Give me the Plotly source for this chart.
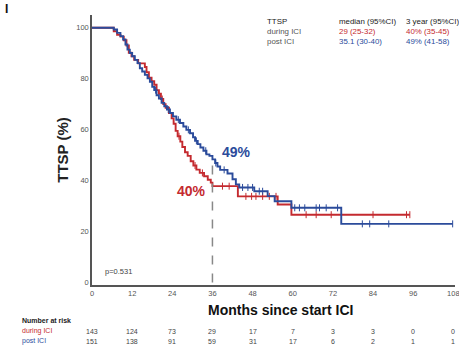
import plotly.graph_objects as go

# ---------------- data ----------------
red_t = [0, 6.5, 7.5, 8.5, 9.5, 10.3, 11.0, 11.8, 12.6, 13.8, 15.8, 16.3, 17.0, 17.8, 18.6, 19.3,
         20.0, 20.6, 21.3, 22.0, 23.0, 23.8, 24.4, 25.0, 25.6, 26.4, 27.0, 27.8, 28.6, 29.5, 30.3,
         31.2, 32.2, 33.5, 34.6, 35.5, 36.0, 43.6, 55.5, 59.6, 95.0]
red_s = [100, 98.6, 97.2, 96.5, 95.1, 93.0, 90.2, 88.8, 87.4, 86.0, 84.6, 82.5, 80.4, 79.0, 77.6, 75.5,
         74.1, 72.0, 70.0, 68.6, 66.5, 64.4, 62.3, 59.5, 57.4, 55.3, 53.2, 51.1, 49.7, 47.6, 45.9,
         44.3, 43.0, 41.7, 40.3, 39.2, 37.8, 33.8, 30.6, 26.6, 26.6]
red_cens_t = [21.0, 26.0, 30.8, 33.0, 39.0, 41.0, 46.0, 47.7, 49.0, 51.0, 53.0, 55.0, 64.0, 67.0, 71.5, 84.0, 94.0, 95.0]

blue_t = [0, 6.5, 7.5, 8.5, 9.3, 10.0, 10.6, 11.3, 12.0, 12.8, 13.6, 14.3, 15.0, 15.8, 16.6, 17.3,
          18.0, 18.6, 19.3, 20.0, 20.8, 21.6, 22.4, 23.3, 24.2, 25.2, 26.3, 27.3, 28.2, 29.3, 30.2,
          30.8, 31.6, 32.4, 33.3, 34.2, 35.1, 36.0, 36.8, 37.5, 38.3, 40.5, 42.0, 43.0, 44.0, 48.5,
          52.5, 54.6, 59.6, 74.5, 107.8]
blue_s = [100, 99.3, 98.0, 96.7, 95.4, 93.4, 91.4, 90.1, 88.8, 87.4, 86.1, 84.1, 82.8, 81.5, 80.1, 78.8,
          76.8, 75.5, 73.5, 72.2, 70.5, 69.2, 67.9, 66.5, 65.2, 63.9, 62.6, 61.2, 59.9, 58.6, 57.0,
          55.6, 54.3, 53.0, 51.7, 50.3, 49.7, 48.3, 46.9, 45.5, 44.2, 42.8, 40.5, 38.5, 37.3, 35.8,
          33.9, 31.9, 29.3, 23.0, 23.0]
blue_cens_t = [19.0, 22.8, 25.8, 28.8, 31.2, 34.0, 37.0, 39.5, 45.0, 46.6, 48.0, 50.0, 51.0,
               60.6, 62.0, 63.6, 67.0, 68.0, 70.0, 73.4, 80.8, 83.0, 88.7, 107.8]

x_ticks = [0, 12, 24, 36, 48, 60, 72, 84, 96, 108]
y_ticks = [0, 20, 40, 60, 80, 100]
risk_during = [143, 124, 73, 29, 17, 7, 3, 3, 0, 0]
risk_post = [151, 138, 91, 59, 31, 17, 6, 2, 1, 1]
landmark = 36

RED = "#c42a2f"
BLUE = "#2b4b9b"
FONT = "Arial, Liberation Sans, sans-serif"

# plot-area geometry in pixels (for placing annotations)
L, R, T, B = 92, 4, 15, 60.5
PW = 459 - L - R
PH = 346 - T - B


def surv_at(ts, ss, t):
    v = ss[0]
    for ti, si in zip(ts, ss):
        if ti <= t:
            v = si
    return v


def px(pix):
    return (pix - L) / PW


def py(pix):
    return (346 - B - pix) / PH


fig = go.Figure()
for ts, ss, cens, col in [(red_t, red_s, red_cens_t, RED), (blue_t, blue_s, blue_cens_t, BLUE)]:
    fig.add_trace(go.Scatter(x=ts, y=ss, mode="lines", line=dict(color=col, width=1.9, shape="hv"),
                             hoverinfo="skip", showlegend=False, cliponaxis=False))
    fig.add_trace(go.Scatter(x=cens, y=[surv_at(ts, ss, c) for c in cens], mode="markers",
                             marker=dict(symbol="line-ns", size=5, line=dict(color=col, width=1)),
                             hoverinfo="skip", showlegend=False, cliponaxis=False))

# landmark dashed line
fig.add_trace(go.Scatter(x=[landmark, landmark], y=[0, surv_at(blue_t, blue_s, landmark)], mode="lines",
                         line=dict(color="#888888", width=1.5, dash="dash"), hoverinfo="skip",
                         showlegend=False))

fig.update_layout(
    width=459, height=346,
    margin=dict(l=L, r=R, t=T, b=B, autoexpand=False),
    paper_bgcolor="white", plot_bgcolor="white",
    font=dict(family=FONT, color="#444444", size=8),
    xaxis=dict(range=[0, 108.5], tickvals=x_ticks, showgrid=False, zeroline=False,
               showline=True, linecolor="#555555", linewidth=1.5, ticks="",
               ticklabeloverflow="allow", automargin=False,
               tickfont=dict(size=7.5, color="#555555")),
    yaxis=dict(range=[-1, 105], tickvals=y_ticks, showgrid=False, zeroline=False,
               showline=True, linecolor="#555555", linewidth=1.5, ticks="", automargin=False,
               tickfont=dict(size=7.5, color="#555555"),
               title=dict(text="<b>TTSP (%)</b>", font=dict(size=15, color="#222222"), standoff=4)),
)

ann = []


def txt(xp, yp, text, size, color, xanchor="left", xref="paper"):
    ann.append(dict(x=xp, y=yp, xref=xref, yref="paper", text=text, showarrow=False,
                    xanchor=xanchor, yanchor="middle", font=dict(size=size, color=color)))


txt(px(3), py(9), "<b>I</b>", 12, "#111111")
txt(px(280), py(311), "<b>Months since start ICI</b>", 14, "#111111", xanchor="center")
txt(px(103), py(272), "p=0.531", 7.5, "#444444")
txt(px(236), py(152), "<b>49%</b>", 14, BLUE, xanchor="center")
txt(px(191), py(191), "<b>40%</b>", 14, RED, xanchor="center")

# legend table
rows = [
    (22, [("TTSP", "#222222"), ("median (95%CI)", "#222222"), ("3 year (95%CI)", "#222222")]),
    (32, [("during ICI", "#555555"), ("29 (25-32)", RED), ("40% (35-45)", RED)]),
    (41.5, [("post ICI", "#555555"), ("35.1 (30-40)", BLUE), ("49% (41-58)", BLUE)]),
]
cols = [265, 336.5, 404]
for ypix, cells in rows:
    for xpix, (t, col) in zip(cols, cells):
        txt(px(xpix), py(ypix), t, 7.9, col)

# risk table
txt(px(20), py(321.5), "<b>Number at risk</b>", 7, "#222222")
txt(px(20), py(332), "during ICI", 7, RED)
txt(px(20), py(342), "post ICI", 7, BLUE)
for xt, a, b in zip(x_ticks, risk_during, risk_post):
    txt(xt, py(332), str(a), 7, "#444444", xanchor="center", xref="x")
    txt(xt, py(342), str(b), 7, "#444444", xanchor="center", xref="x")

fig.update_layout(annotations=ann)
fig.write_html("out.html")
